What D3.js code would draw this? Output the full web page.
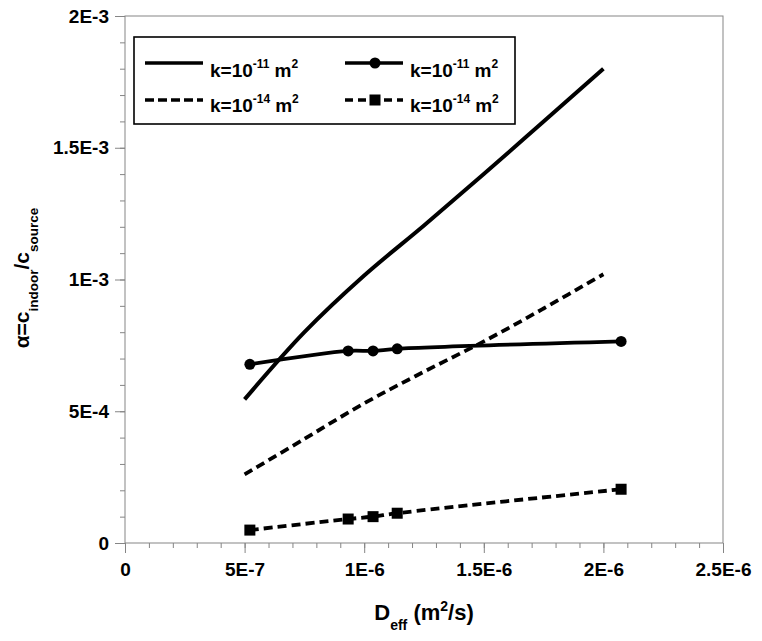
<!DOCTYPE html>
<html>
<head>
<meta charset="utf-8">
<script src="https://cdn.jsdelivr.net/npm/d3@7"></script>
<style>
  body { margin: 0; background: #fff; }
  text { font-family: "Liberation Sans", Arial, Helvetica, sans-serif; font-weight: bold; fill: #000; }
</style>
</head>
<body>
<svg id="chart" width="762" height="641"></svg>
<script>
// x values of the two smooth curves (no markers)
var curveX = [5e-7, 7.5e-7, 1e-6, 1.25e-6, 1.5e-6, 1.75e-6, 2e-6]
var solidY = [5.45e-4, 8.0e-4, 1.015e-3, 1.205e-3, 1.40e-3, 1.60e-3, 1.80e-3]   // k=1e-11, line only
var dashY  = [2.6e-4, 3.95e-4, 5.3e-4, 6.5e-4, 7.65e-4, 8.9e-4, 1.02e-3]       // k=1e-14, line only

// x values of the marker series
var markX   = [5.22e-7, 9.33e-7, 1.037e-6, 1.138e-6, 2.074e-6]
var circleY = [6.78e-4, 7.29e-4, 7.29e-4, 7.37e-4, 7.65e-4]   // k=1e-11, circles
var squareY = [4.9e-5, 9.1e-5, 1.0e-4, 1.13e-4, 2.04e-4]      // k=1e-14, squares

var xTicks = [0, 5e-7, 1e-6, 1.5e-6, 2e-6, 2.5e-6]
var xLabels = ["0", "5E-7", "1E-6", "1.5E-6", "2E-6", "2.5E-6"]
var yTicks = [0, 5e-4, 1e-3, 1.5e-3, 2e-3]
var yLabels = ["0", "5E-4", "1E-3", "1.5E-3", "2E-3"]
var xMinor = d3.range(0, 26).map(function(i){ return i * 1e-7 })
var yMinor = d3.range(0, 21).map(function(i){ return i * 1e-4 })

var svg = d3.select("#chart")
var margin = { top: 16, right: 39, bottom: 98, left: 125 }
var width = +svg.attr("width") - margin.left - margin.right
var height = +svg.attr("height") - margin.top - margin.bottom

svg.append("rect").attr("width", 762).attr("height", 641).attr("fill", "#fff")

var g = svg.append("g").attr("transform", `translate(${margin.left},${margin.top})`)

var x = d3.scaleLinear().domain([0, 2.5e-6]).range([0, width])
var y = d3.scaleLinear().domain([0, 2e-3]).range([height, 0])

var axisColor = "#858585"

// minor ticks
g.append("g").attr("transform", `translate(0,${height})`)
  .call(d3.axisBottom(x).tickValues(xMinor).tickSize(5).tickFormat(""))
g.append("g")
  .call(d3.axisLeft(y).tickValues(yMinor).tickSize(5).tickFormat(""))

// major ticks + labels
g.append("g").attr("transform", `translate(0,${height})`)
  .call(d3.axisBottom(x).tickValues(xTicks).tickSize(10).tickPadding(10)
    .tickFormat(function(d, i){ return xLabels[i] }))
g.append("g")
  .call(d3.axisLeft(y).tickValues(yTicks).tickSize(10).tickPadding(6)
    .tickFormat(function(d, i){ return yLabels[i] }))

g.selectAll(".domain").remove()
g.selectAll(".tick line").attr("stroke", axisColor)
g.selectAll(".tick text").style("font-size", "19px").attr("fill", "#000")

// plot frame
g.append("rect")
  .attr("width", width).attr("height", height)
  .attr("fill", "none").attr("stroke", axisColor).attr("stroke-width", 1)

var line = d3.line()
  .x(function(d){ return x(d[0]) })
  .y(function(d){ return y(d[1]) })
  .curve(d3.curveCatmullRom)

function pairs(xs, ys) { return xs.map(function(v, i){ return [v, ys[i]] }) }

g.append("path").datum(pairs(curveX, solidY))
  .attr("d", line).attr("fill", "none").attr("stroke", "#000").attr("stroke-width", 4)

g.append("path").datum(pairs(curveX, dashY))
  .attr("d", line).attr("fill", "none").attr("stroke", "#000").attr("stroke-width", 3.8)
  .attr("stroke-dasharray", "9,5")

g.append("path").datum(pairs(markX, circleY))
  .attr("d", line).attr("fill", "none").attr("stroke", "#000").attr("stroke-width", 3.8)

g.append("path").datum(pairs(markX, squareY))
  .attr("d", line).attr("fill", "none").attr("stroke", "#000").attr("stroke-width", 3.8)
  .attr("stroke-dasharray", "9,5")

g.selectAll("circle.mk").data(pairs(markX, circleY)).enter()
  .append("circle").attr("class", "mk")
  .attr("cx", function(d){ return x(d[0]) })
  .attr("cy", function(d){ return y(d[1]) })
  .attr("r", 5.5).attr("fill", "#000")

g.selectAll("rect.mk").data(pairs(markX, squareY)).enter()
  .append("rect").attr("class", "mk")
  .attr("x", function(d){ return x(d[0]) - 5.5 })
  .attr("y", function(d){ return y(d[1]) - 5.5 })
  .attr("width", 11).attr("height", 11).attr("fill", "#000")

// legend
var legend = svg.append("g")
legend.append("rect").attr("x", 134).attr("y", 37).attr("width", 381).attr("height", 87)
  .attr("fill", "#fff").attr("stroke", "#000").attr("stroke-width", 1.6)

var legendItems = [
  { col: 0, row: 0, exp: "-11", dash: null, mark: null },
  { col: 1, row: 0, exp: "-11", dash: null, mark: "circle" },
  { col: 0, row: 1, exp: "-14", dash: "9,4", mark: null },
  { col: 1, row: 1, exp: "-14", dash: "8,5", mark: "square" }
]

legendItems.forEach(function(it){
  var x0 = it.col ? 345 : 145
  var ly = it.row ? 100 : 63
  var ty = it.row ? 112 : 76.5
  legend.append("line").attr("x1", x0).attr("x2", x0 + 58).attr("y1", ly).attr("y2", ly)
    .attr("stroke", "#000").attr("stroke-width", 3.4)
    .attr("stroke-dasharray", it.dash)
  if (it.mark === "circle") {
    legend.append("circle").attr("cx", x0 + 30).attr("cy", ly).attr("r", 5.5).attr("fill", "#000")
  } else if (it.mark === "square") {
    legend.append("rect").attr("x", x0 + 24.5).attr("y", ly - 5.5).attr("width", 11).attr("height", 11).attr("fill", "#000")
  }
  var t = legend.append("text").attr("x", x0 + 65).attr("y", ty).style("font-size", "19px")
  t.append("tspan").text("k=10")
  t.append("tspan").attr("dy", -9).style("font-size", "12px").text(it.exp)
  t.append("tspan").attr("dy", 9).attr("dx", 5).text("m")
  t.append("tspan").attr("dy", -9).style("font-size", "12px").text("2")
})

// x axis title
var xt = svg.append("text").attr("x", margin.left + width / 2).attr("y", 620)
  .attr("text-anchor", "middle").style("font-size", "22px")
xt.append("tspan").text("D")
xt.append("tspan").attr("dy", 10).style("font-size", "14px").text("eff")
xt.append("tspan").attr("dy", -10).text(" (m")
xt.append("tspan").attr("dy", -9).style("font-size", "14px").text("2")
xt.append("tspan").attr("dy", 9).text("/s)")

// y axis title
var yt = svg.append("text")
  .attr("transform", `translate(29,278) rotate(-90)`)
  .attr("text-anchor", "middle").style("font-size", "21px")
yt.append("tspan").text("α=c")
yt.append("tspan").attr("dy", 9).style("font-size", "13.5px").text("indoor")
yt.append("tspan").attr("dy", -9).text("/c")
yt.append("tspan").attr("dy", 9).style("font-size", "13.5px").text("source")
</script>
</body>
</html>
